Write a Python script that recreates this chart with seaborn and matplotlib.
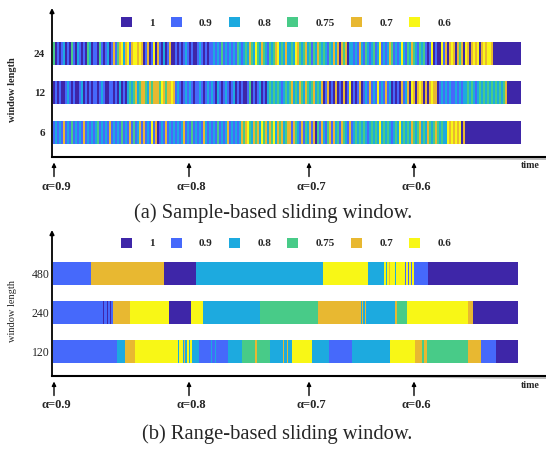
import numpy as np
import pandas as pd
import seaborn as sns
import matplotlib
matplotlib.use("Agg")
import matplotlib.pyplot as plt
from matplotlib.patches import Patch, Polygon
from matplotlib.transforms import blended_transform_factory

# ---------------- data ----------------
levels = [1, 0.9, 0.8, 0.75, 0.7, 0.6]
level_labels = ["1", "0.9", "0.8", "0.75", "0.7", "0.6"]
level_colors = ["#3E26A8", "#4669FB", "#1DAADF", "#48CB88", "#E8B831", "#F8F716"]
codes = "abcdef"          # a=1, b=0.9, c=0.8, d=0.75, e=0.7, f=0.6

# (a) sample-based sliding window: one code per sample, each sample = 2 time units
sample_rows = ["24", "12", "6"]
sample_step = 2
sample_24 = ("dababcabadbacbabadcabbadbabcab" "ebdefcefbeffefe" "abeabfaebacabea"
             "abababcbabaabcbabab" "bcbcbdbcbcbcbdcbc" "dcedcfdcedcbdcdefcdcec"
             "cdcfedcdecdbdcedcdcbdcec" "eaedeac" "cbcbecbdcbcdbcfbcbcedbcbcfcb"
             "dcedcbdcd" "babfabaafb" "eaefeaedeafeaefefaefeffe" "aaaaaaaaaaaaaa")
sample_12 = ("ababaabcbabaabcabababbabcbaabbabacaba" "cdcdecdeedcedeeedfede" "efe"
             "bcbabcbcbabbcbabcbcbacbabcbabc" "ababaabdababcaba" "cdcdcdcbcd"
             "cdecdcedcedcdecdce" "abeabaeabaeabfababea" "bcbebcbfbcbebcababaebc"
             "eafeaefeaeaefeea" "bcbcbcbbcbcbc" "cdcdcbcdcdcdcdcdcdcd" "e" "aaaaaaa")
sample_6 = ("bcbcbebcbdbcbcbebcbcbcdbcbcbebcbcbdbc" "bebdbcebebcb" "fbeabcbebc"
            "bcbcbcebcbdbcbcbecbcbcbdbcbcebcbcbc" "edefdcedecfdecedfcedecde"
            "ebedcbebdcebeadbecbdebecdbedcbeb" "cdcdcdcbcdcdcfcdcdcbcdcfcdc"
            "dcedcdecdcedcdedcdc" "cfefefefae" "aaaaaaaaaaaaaaaaaaaaaaaaaaaa")

# (b) range-based sliding window: level of each run and the time at which it ends
range_rows = ["480", "240", "120"]
range_480_levels = [0.9, 0.7, 1, 0.8, 0.6, 0.8, 0.6, 0.8, 0.6, 0.7, 0.6, 0.8, 0.6,
                    0.9, 0.6, 0.9, 0.6, 0.9, 0.6, 0.9, 1]
range_480_ends = [38, 111, 143, 270, 315, 331, 333, 334, 336, 337, 342, 343, 352,
                  353, 354.5, 355.5, 358, 359, 361, 375, 465]
range_240_levels = [0.9, 1, 0.9, 1, 0.9, 1, 0.9, 0.7, 0.6, 1, 0.6, 0.8, 0.75, 0.7,
                    0.8, 0.7, 0.8, 0.7, 0.8, 0.7, 0.75, 0.6, 0.7, 1]
range_240_ends = [50, 51, 53.5, 54.5, 57, 58, 60, 77, 116, 138, 150, 207, 265, 308,
                  309, 310, 311.5, 313, 342, 344, 353.5, 415, 420, 465]
range_120_levels = [0.9, 0.8, 0.7, 0.6, 0.8, 0.6, 0.8, 0.7, 0.8, 0.6, 0.8, 0.6, 0.8,
                    0.9, 0.8, 0.9, 0.8, 0.9, 0.8, 0.75, 0.7, 0.75, 0.8, 0.7, 0.8,
                    0.7, 0.8, 0.6, 0.8, 0.9, 0.8, 0.6, 0.7, 0.75, 0.7, 0.75, 0.7,
                    0.9, 1]
range_120_ends = [64, 72, 82, 125, 126, 130, 131, 132, 133.5, 136, 137, 139, 146,
                  158, 159, 161.5, 162.5, 175, 189, 202, 203.5, 217, 230, 231, 233.5,
                  234.5, 239, 259, 276, 299, 337, 362, 369, 371, 373.5, 415, 428,
                  442.5, 465]

alpha_times = [1, 136, 256, 361]
alpha_labels = ["α=0.9", "α=0.8", "α=0.7", "α=0.6"]

captions = ["(a) Sample-based sliding window.", "(b) Range-based sliding window."]

# ---------------- build tables ----------------
def sample_table(rows, strings, step):
    recs = []
    for yi, (name, s) in enumerate(zip(rows, strings)):
        y = len(rows) - 1 - yi
        i = 0
        while i < len(s):
            j = i
            while j < len(s) and s[j] == s[i]:
                j += 1
            recs.append(dict(row=name, y=y, start=i * step, width=(j - i) * step,
                             level=levels[codes.index(s[i])]))
            i = j
    return pd.DataFrame(recs)


def range_table(rows, lvls, ends):
    recs = []
    for yi, (name, lv, en) in enumerate(zip(rows, lvls, ends)):
        y = len(rows) - 1 - yi
        prev = 0
        for l, e in zip(lv, en):
            recs.append(dict(row=name, y=y, start=prev, width=e - prev, level=l))
            prev = e
    return pd.DataFrame(recs)


df_a = sample_table(sample_rows, [sample_24, sample_12, sample_6], sample_step)
df_b = range_table(range_rows,
                   [range_480_levels, range_240_levels, range_120_levels],
                   [range_480_ends, range_240_ends, range_120_ends])

# ---------------- style ----------------
sns.set_theme(style="white")
plt.rcParams["font.family"] = ["Liberation Serif", "DejaVu Serif"]
palette = dict(zip(levels, sns.color_palette(level_colors)))

W, H = 546, 449
fig = plt.figure(figsize=(W / 100, H / 100), dpi=100)


def px_axes(left, top, right, bottom):
    return fig.add_axes([left / W, 1 - bottom / H, (right - left) / W, (bottom - top) / H])


def fx(px):
    return px / W


def fy(py):
    return 1 - py / H


panels = [
    dict(df=df_a, rows=sample_rows, box=(52, 8, 546, 157), ylim=(-0.633, 3.16),
         bar_h=0.58, legend_y=22.6, cap_x=273.5, cap_y=213,
         tick_w="bold", tick_fs=8, tick_pad=5, lab_w="bold", lab_y=90),
    dict(df=df_b, rows=range_rows, box=(52, 230, 546, 376), ylim=(-0.628, 3.115),
         bar_h=0.59, legend_y=243, cap_x=277.5, cap_y=434,
         tick_w="normal", tick_fs=8.5, tick_pad=2, lab_w="normal", lab_y=311),
]

for k, p in enumerate(panels):
    l, t, r, b = p["box"]
    ax = px_axes(l, t, r, b)
    axh = b - t
    df = p["df"]
    ax.barh(df["y"], df["width"], left=df["start"], height=p["bar_h"],
            color=[palette[v] for v in df["level"]], linewidth=0, align="center")
    ax.set_xlim(-1, r - l - 1)
    ax.set_ylim(*p["ylim"])
    ax.set_xticks([])
    ax.set_yticks(range(len(p["rows"])))
    ax.set_yticklabels(p["rows"][::-1], fontsize=p["tick_fs"], fontweight=p["tick_w"])
    ax.tick_params(axis="y", length=0, pad=p["tick_pad"])
    sns.despine(ax=ax, top=True, right=True, left=True)
    ax.spines["bottom"].set_linewidth(1.5)
    ax.spines["bottom"].set_color("black")
    ax.set_facecolor("none")
    # y axis with arrow head
    ax.annotate("", xy=(0, 1), xytext=(0, 0), xycoords="axes fraction",
                arrowprops=dict(arrowstyle="-|>", lw=1.3, color="black",
                                mutation_scale=6, shrinkA=0, shrinkB=0),
                annotation_clip=False)
    # shadow under time axis
    fig.patches.append(Polygon([(fx(330), fy(b + 0.5)), (fx(546), fy(b + 0.5)),
                                (fx(546), fy(b + 3))], closed=True,
                               transform=fig.transFigure, facecolor="#9a9a9a",
                               edgecolor="none", alpha=0.7))
    # y label
    fig.text(fx(12.5), fy(p["lab_y"]), "window length", rotation=90, ha="center",
             va="center", fontsize=7.5, fontweight=p["lab_w"])
    # time label
    fig.text(fx(530), fy(b + 9), "time", ha="center", va="center", fontsize=7.2,
             fontweight="bold")
    # alpha arrows
    tr = blended_transform_factory(ax.transData, ax.transAxes)
    for tm, lab in zip(alpha_times, alpha_labels):
        ax.annotate("", xy=(tm, -5.5 / axh), xytext=(tm, -19.5 / axh),
                    xycoords=tr, textcoords=tr,
                    arrowprops=dict(arrowstyle="-|>", lw=1.0, color="black",
                                    mutation_scale=6, shrinkA=0, shrinkB=0),
                    annotation_clip=False)
        ax.text(tm + 2, -29.5 / axh, lab, transform=tr, ha="center", va="center",
                fontsize=9, fontweight="bold", clip_on=False)
    # legend
    handles = [Patch(facecolor=palette[v], edgecolor="none") for v in levels]
    fig.legend(handles, level_labels, loc="center", ncol=6, frameon=False,
               bbox_to_anchor=(fx(286), fy(p["legend_y"])),
               bbox_transform=fig.transFigure,
               prop=dict(family="Liberation Serif", size=8, weight="bold"),
               handlelength=1.0, handleheight=1.0, handletextpad=1.55,
               columnspacing=1.45, borderpad=0)
    # caption
    fig.text(fx(p["cap_x"]), fy(p["cap_y"]), captions[k],
             ha="center", va="center", fontsize=14.8)

fig.savefig("out.png", dpi=100)
